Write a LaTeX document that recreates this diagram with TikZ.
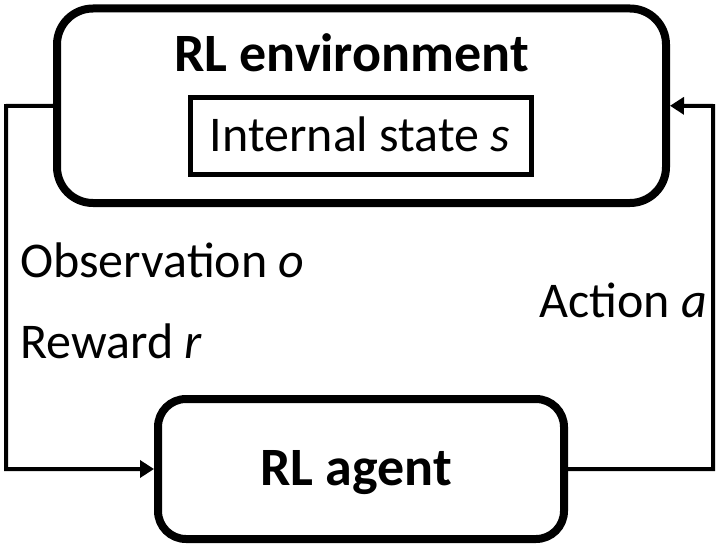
\documentclass[tikz,border=0pt]{standalone}
\usepackage{fontspec}
\setmainfont{Carlito}
\usepackage{tikz}
\usetikzlibrary{arrows.meta}
\usetikzlibrary{positioning}

\begin{document}
\begin{tikzpicture}[x=1pt,y=-1pt]
\useasboundingbox (0,0) rectangle (722,548);
\node at (361.5,105.75)[rectangle,rounded corners=36pt,minimum width=609pt,minimum height=194.5pt,draw=black,line width=8pt](env){};
\node at (351.5,72)[anchor=base,font=\fontsize{54}{58}\selectfont\bfseries,inner sep=0pt](envtxt){RL environment};
\node at (360.75,136.25)[rectangle,minimum width=340.5pt,minimum height=77.5pt,draw=black,line width=5pt](state){};
\node at (360,152)[anchor=base,font=\fontsize{50}{54}\selectfont,inner sep=0pt](statetxt){Internal state \textit{s}};
\node at (361,469)[rectangle,rounded corners=28pt,minimum width=406pt,minimum height=140pt,draw=black,line width=8pt](agent){};
\node at (356,485)[anchor=base,font=\fontsize{54}{58}\selectfont\bfseries,inner sep=0pt](agenttxt){RL agent};
\node at (20,277)[anchor=base west,font=\fontsize{50}{54}\selectfont,inner sep=0pt](obs){Observation \textit{o}};
\node at (20,358)[anchor=base west,font=\fontsize{50}{54}\selectfont,inner sep=0pt](rew){Reward \textit{r}};
\node at (707,317)[anchor=base east,font=\fontsize{50}{54}\selectfont,inner sep=0pt](act){Action \textit{a}};
\coordinate (lc) at (6,106);
\coordinate (rc) at (713,106);
\draw[line width=4pt,-{Triangle[length=14pt,width=17pt]}] (env.west) -- (lc) |- (agent.west);
\draw[line width=4pt,-{Triangle[length=14pt,width=17pt]}] (agent.east) -| (rc) -- (env.east);
\end{tikzpicture}
\end{document}
